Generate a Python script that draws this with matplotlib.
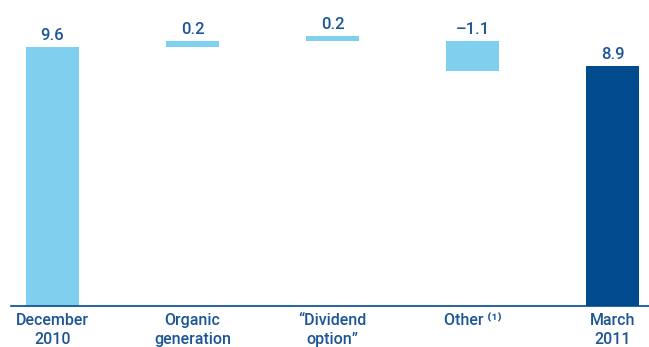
import numpy as np
import matplotlib.pyplot as plt

# Core capital movement (%), waterfall steps
categories = ['December\n2010', 'Organic\ngeneration', '\u201cDividend\noption\u201d',
              'Other \u207d\u00b9\u207e', 'March\n2011']
values = [9.6, 0.2, 0.2, -1.1, 8.9]
# level each bar hangs from (totals start at zero)
starts = [0.0, 9.6, 9.8, 9.8, 0.0]

light = '#7fcfee'
dark = '#004b8d'
text_col = '#1c5596'

plt.rcParams['font.family'] = ['Roboto', 'DejaVu Sans']

fig = plt.figure(figsize=(6.49, 3.47), dpi=100)
ax = fig.add_axes([11 / 649, 41 / 347, 638 / 649, 306 / 347])

x = np.arange(len(values))
bottoms = [s if v >= 0 else s + v for s, v in zip(starts, values)]
heights = [abs(v) for v in values]
colors = [light] * (len(values) - 1) + [dark]

ax.bar(x, heights, bottom=bottoms, width=0.379, color=colors)

for xi, b, h, v in zip(x, bottoms, heights, values):
    label = f'{v:.1f}'.replace('-', '\u2013')
    ax.text(xi, b + h + 0.15, label, ha='center', va='bottom',
            fontsize=12, fontweight='medium', color=text_col)

ax.set_xlim(-0.296, 4.261)
ax.set_ylim(0, 11.33)
ax.set_xticks(x)
ax.set_xticklabels(categories, fontsize=11.5, fontweight='medium',
                   color=text_col, linespacing=1.35)
ax.tick_params(axis='x', length=0, pad=5)
ax.set_yticks([])
for side in ['top', 'right', 'left']:
    ax.spines[side].set_visible(False)
ax.spines['bottom'].set_color(dark)
ax.spines['bottom'].set_linewidth(1.2)

fig.savefig('out.png', dpi=100)
